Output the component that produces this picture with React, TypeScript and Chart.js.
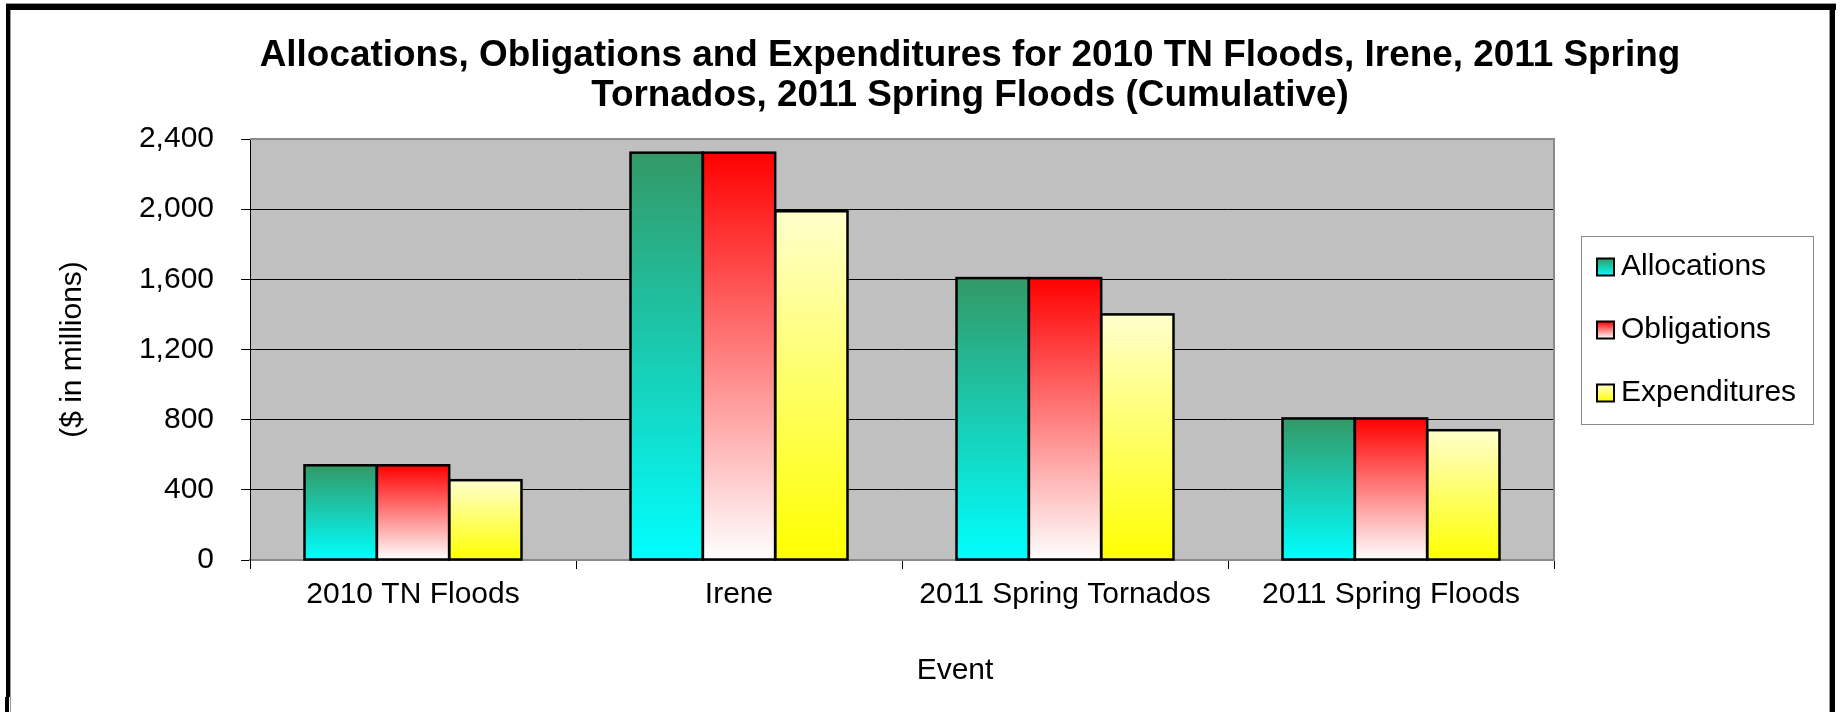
import React, { useEffect, useRef } from 'react';
import { Chart, registerables } from 'chart.js';

Chart.register(...registerables);

// ---- data ----
const categories = ['2010 TN Floods', 'Irene', '2011 Spring Tornados', '2011 Spring Floods'];
const allocations = [540, 2322, 1607, 807];
const obligations = [540, 2322, 1607, 807];
const expenditures = [455, 1988, 1400, 740];
const seriesNames = ['Allocations', 'Obligations', 'Expenditures'];
const yTicks = [0, 400, 800, 1200, 1600, 2000, 2400];
const titleLines = [
  'Allocations, Obligations and Expenditures for 2010 TN Floods, Irene, 2011 Spring',
  'Tornados, 2011 Spring Floods (Cumulative)',
];
const yAxisTitle = '($ in millions)';
const xAxisTitle = 'Event';

// ---- styles ----
const FONT = '"Liberation Sans", Arial, Helvetica, sans-serif';
const gradients: [string, string][] = [
  ['#339966', '#00FFFF'],
  ['#FF0000', '#FFFFFF'],
  ['#FFFFCC', '#FFFF00'],
];

const gradFill = (idx: number) => (c: any) => {
  const chart = c.chart;
  const [top, bottom] = gradients[idx];
  if (!chart.chartArea || c.type !== 'data') return bottom;
  const y = chart.scales.y;
  const yTop = y.getPixelForValue(c.raw as number);
  const yBase = y.getPixelForValue(0);
  if (!isFinite(yTop) || !isFinite(yBase) || yTop === yBase) return bottom;
  const g = chart.ctx.createLinearGradient(0, yTop, 0, yBase);
  g.addColorStop(0, top);
  g.addColorStop(1, bottom);
  return g;
};

const decor = {
  id: 'decor',
  beforeDraw(chart: any) {
    const { ctx, chartArea: a, width, height } = chart;
    ctx.save();
    ctx.fillStyle = '#FFFFFF';
    ctx.fillRect(0, 0, width, height);
    ctx.fillStyle = '#C0C0C0';
    ctx.fillRect(a.left, a.top, a.right - a.left, a.bottom - a.top);
    ctx.restore();
  },
  beforeDatasetsDraw(chart: any) {
    const { ctx, chartArea: a } = chart;
    ctx.save();
    ctx.strokeStyle = '#8A8A8A';
    ctx.lineWidth = 2;
    ctx.beginPath();
    ctx.moveTo(a.left, a.top);
    ctx.lineTo(a.right, a.top);
    ctx.lineTo(a.right, a.bottom);
    ctx.stroke();
    ctx.restore();
  },
  afterDatasetsDraw(chart: any) {
    const { ctx } = chart;
    ctx.save();
    ctx.strokeStyle = '#000000';
    ctx.lineWidth = 2.5;
    chart.data.datasets.forEach((_: any, i: number) => {
      const meta = chart.getDatasetMeta(i);
      meta.data.forEach((el: any) => {
        const { x, y, base, width } = el.getProps(['x', 'y', 'base', 'width'], true);
        ctx.strokeRect(x - width / 2, y, width, base - y);
      });
    });
    ctx.restore();
  },
  afterDraw(chart: any) {
    const { ctx } = chart;
    ctx.save();
    // title
    ctx.fillStyle = '#000000';
    ctx.textAlign = 'center';
    ctx.textBaseline = 'middle';
    ctx.font = `bold 36.9px ${FONT}`;
    ctx.fillText(titleLines[0], 970, 56);
    ctx.fillText(titleLines[1], 970, 96);
    // x axis title
    ctx.font = `30px ${FONT}`;
    ctx.fillText(xAxisTitle, 955, 671);

    // legend
    const lx = 1581, ly = 236, lw = 232, lh = 188;
    ctx.fillStyle = '#FFFFFF';
    ctx.fillRect(lx, ly, lw, lh);
    ctx.strokeStyle = '#8A8A8A';
    ctx.lineWidth = 1;
    ctx.strokeRect(lx + 0.5, ly + 0.5, lw, lh);
    const itemY = [267, 330, 393];
    ctx.textAlign = 'left';
    ctx.font = `30px ${FONT}`;
    seriesNames.forEach((name, i) => {
      const cy = itemY[i];
      const sx = 1597, sy = cy - 8.5, ss = 17;
      const g = ctx.createLinearGradient(0, sy, 0, sy + ss);
      g.addColorStop(0, gradients[i][0]);
      g.addColorStop(1, gradients[i][1]);
      ctx.fillStyle = g;
      ctx.fillRect(sx, sy, ss, ss);
      ctx.strokeStyle = '#000000';
      ctx.lineWidth = 2;
      ctx.strokeRect(sx, sy, ss, ss);
      ctx.fillStyle = '#000000';
      ctx.fillText(name, 1621, cy);
    });

    // outer frame
    ctx.fillStyle = '#000000';
    ctx.fillRect(6, 4, 1830, 6);
    ctx.fillRect(6, 4, 4, 693);
    ctx.fillRect(5, 697, 4, 15);
    ctx.fillRect(1830, 4, 5, 708);
    ctx.fillStyle = '#9A9A9A';
    ctx.fillRect(10, 10, 1, 702);
    ctx.fillRect(1829, 10, 1, 702);
    ctx.fillRect(6, 3, 1830, 1);
    ctx.restore();
  },
};

export default function App() {
  const ref = useRef<HTMLCanvasElement>(null);

  useEffect(() => {
    if (!ref.current) return;
    const chart = new Chart(ref.current, {
      type: 'bar',
      data: {
        labels: categories,
        datasets: [
          { label: seriesNames[0], data: allocations, backgroundColor: gradFill(0), borderWidth: 0 },
          { label: seriesNames[1], data: obligations, backgroundColor: gradFill(1), borderWidth: 0 },
          { label: seriesNames[2], data: expenditures, backgroundColor: gradFill(2), borderWidth: 0 },
        ],
      },
      options: {
        responsive: false,
        animation: false,
        devicePixelRatio: 1,
        layout: { padding: { left: 10, right: 289, top: 139, bottom: 92 } },
        datasets: { bar: { categoryPercentage: 0.6656, barPercentage: 1 } },
        plugins: {
          legend: { display: false },
          title: { display: false },
          tooltip: { enabled: false },
        },
        scales: {
          x: {
            type: 'category',
            offset: true,
            grid: {
              display: true,
              offset: true,
              drawOnChartArea: false,
              drawTicks: true,
              tickLength: 9,
              color: '#000000',
              tickColor: '#000000',
              lineWidth: 1,
            },
            border: { display: true, color: '#8A8A8A', width: 2 },
            ticks: {
              color: '#000000',
              font: { family: FONT, size: 30 },
              padding: 8,
              maxRotation: 0,
              autoSkip: false,
            },
            afterFit: (s: any) => {
              s.height = 60;
            },
          },
          y: {
            type: 'linear',
            min: 0,
            max: 2400,
            afterBuildTicks: (s: any) => {
              s.ticks = yTicks.map((v) => ({ value: v }));
            },
            ticks: {
              color: '#000000',
              font: { family: FONT, size: 30 },
              padding: 27,
              callback: (v: any) => Number(v).toLocaleString('en-US'),
            },
            grid: {
              color: (c: any) =>
                c.tick && (c.tick.value === 0 || c.tick.value === 2400) ? 'rgba(0,0,0,0)' : '#000000',
              tickColor: '#000000',
              tickLength: 9,
              lineWidth: 1,
            },
            border: { display: true, color: '#000000', width: 1 },
            title: {
              display: true,
              text: yAxisTitle,
              color: '#000000',
              font: { family: FONT, size: 30 },
              padding: { top: 45, bottom: 0 },
            },
            afterFit: (s: any) => {
              s.width = 240;
            },
          },
        },
      },
      plugins: [decor],
    } as any);
    return () => chart.destroy();
  }, []);

  return (
    <div style={{ position: 'fixed', left: 0, top: 0, width: 1843, height: 712 }}>
      <canvas ref={ref} width={1843} height={712} style={{ display: 'block', width: 1843, height: 712 }} />
    </div>
  );
}
